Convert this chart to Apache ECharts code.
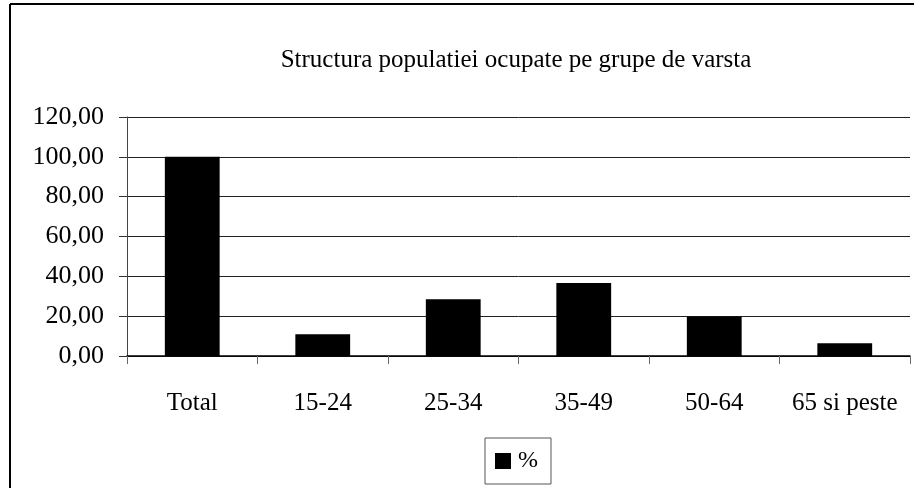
<!DOCTYPE html>
<html>
<head>
<meta charset="utf-8">
<script src="https://cdn.jsdelivr.net/npm/echarts@6/dist/echarts.min.js"></script>
<style>
html,body{margin:0;padding:0;background:#fff;}
#chart{width:914px;height:488px;}
</style>
</head>
<body>
<div id="chart"></div>
<script>
const titleText = 'Structura populatiei ocupate pe grupe de varsta';
const categories = ['Total', '15-24', '25-34', '35-49', '50-64', '65 si peste'];
const seriesName = '%';
const values = [100.0, 10.9, 28.5, 36.6, 19.8, 6.4];
const yTicks = { min: 0, max: 120, interval: 20 };

const FONT = '"Liberation Serif", "Times New Roman", serif';
const chart = echarts.init(document.getElementById('chart'), null, { renderer: 'canvas' });
chart.setOption({
  backgroundColor: '#fff',
  animation: false,
  title: {
    text: titleText,
    left: 511,
    textAlign: 'center',
    top: 43,
    textStyle: { fontFamily: FONT, fontSize: 25, fontWeight: 'normal', color: '#000' }
  },
  legend: {
    data: [seriesName],
    left: 485,
    top: 438,
    padding: [11, 13, 11, 10],
    borderColor: '#555',
    borderWidth: 1,
    itemWidth: 16,
    itemHeight: 16,
    itemGap: 0,
    icon: 'rect',
    textStyle: { fontFamily: FONT, fontSize: 24, color: '#000', padding: [0, 0, 0, 2] }
  },
  grid: { left: 127, right: 4, top: 117, bottom: 132, containLabel: false },
  xAxis: {
    type: 'category',
    data: categories,
    axisLine: { show: true, lineStyle: { color: '#000', width: 1.5 } },
    axisTick: { show: true, length: 8, lineStyle: { color: '#666', width: 1 } },
    axisLabel: { fontFamily: FONT, fontSize: 25, color: '#000', margin: 35, interval: 0 },
    splitLine: { show: false }
  },
  yAxis: {
    type: 'value',
    min: yTicks.min,
    max: yTicks.max,
    interval: yTicks.interval,
    axisLine: { show: true, lineStyle: { color: '#444', width: 1 } },
    axisTick: { show: true, length: 8, lineStyle: { color: '#333', width: 1 } },
    axisLabel: {
      fontFamily: FONT, fontSize: 26, color: '#000', margin: 23,
      formatter: v => v.toFixed(2).replace('.', ',')
    },
    splitLine: { show: true, lineStyle: { color: '#222', width: 1 } }
  },
  series: [{
    name: seriesName,
    type: 'bar',
    data: values,
    barWidth: '42%',
    itemStyle: { color: '#000' }
  }],
  graphic: [
    { type: 'line', shape: { x1: 10, y1: 4, x2: 914, y2: 4 }, style: { stroke: '#000', lineWidth: 2 } },
    { type: 'line', shape: { x1: 10, y1: 4, x2: 10, y2: 488 }, style: { stroke: '#000', lineWidth: 2 } }
  ]
});
</script>
</body>
</html>
